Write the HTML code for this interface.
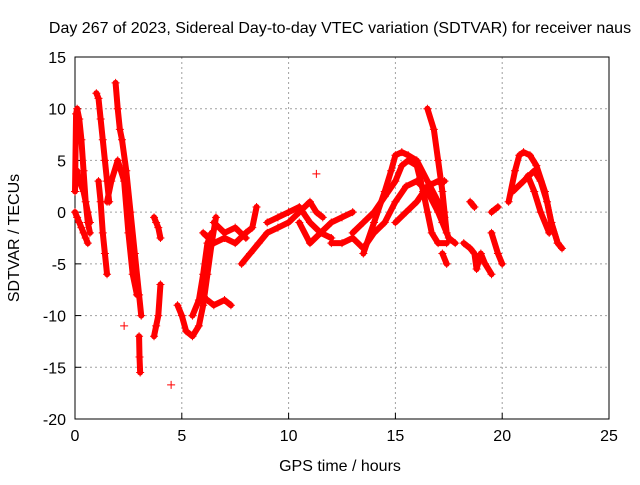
<!DOCTYPE html>
<html><head><meta charset="utf-8"><style>
body{margin:0;background:#fff;}
svg{font-family:"Liberation Sans",sans-serif;}
</style></head><body>
<svg id="chart" width="640" height="480">
<text x="340" y="33" font-size="16" text-anchor="middle">Day 267 of 2023, Sidereal Day-to-day VTEC variation (SDTVAR) for receiver naus</text>
<g id="grid"></g>
<g id="axes"></g>
<g id="marks"></g>
<text x="340" y="471" font-size="16" text-anchor="middle">GPS time / hours</text>
<text x="19" y="238" font-size="16" text-anchor="middle" transform="rotate(-90 19 238)">SDTVAR / TECUs</text>
</svg>
<script>
const xTicks=[0,5,10,15,20,25];
const yTicks=[15,10,5,0,-5,-10,-15,-20];
const trackX=[
[0,0.05,0.1,0.2,0.3,0.4,0.5,0.6,0.7],
[0,0.1,0.2,0.3,0.4,0.5,0.6],
[0.1,0.2,0.4,0.6,0.7],
[1.0,1.1,1.2,1.3,1.4,1.5,1.6],
[1.1,1.2,1.3,1.4,1.5],
[1.9,2.0,2.1,2.2,2.4,2.6,2.8,3.0,3.1],
[1.5,1.7,2.0,2.3,2.5,2.7,2.9],
[3.0,3.02,3.05],
[3.7,3.8,3.9,4.0],
[3.7,3.8,3.9,4.0],
[4.5],
[4.8,5.0,5.2,5.5,5.8,6.0,6.2,6.4,6.6],
[5.5,5.8,6.0,6.2,6.4],
[6.2,6.5,7.0,7.3],
[6.0,6.5,7.0,7.5,8.0,8.3,8.5],
[6.5,7.0,7.5,8.0],
[7.8,8.2,8.6,9.0,9.5,10.0,10.5,11.0,11.3,11.6],
[9.0,9.5,10.0,10.5,11.0,11.5,12.0],
[10.5,11.0,11.5,12.0,12.5,13.0],
[12.0,12.5,13.0,13.5,14.0,14.5,15.0,15.5,16.0,16.5,17.0,17.2,17.5,17.8],
[13.5,14.0,14.5,14.8,15.0,15.3,15.6,16.0,16.5,17.0,17.3],
[15.0,15.5,16.0,16.5,17.0,17.3],
[13.0,13.5,14.0,14.5,15.0,15.3,15.6,16.0,16.3,16.5,16.7,17.0,17.4],
[16.5,16.8,17.0,17.2,17.3,17.4],
[17.2,17.4],
[18.2,18.5,18.7,18.8,19.0,19.2,19.5],
[18.5,18.7],
[19.5,19.8,20.0],
[19.5,19.8],
[20.3,20.6,20.8,21.0,21.3,21.6,22.0,22.3,22.6,22.8],
[20.5,21.0,21.5,21.8,22.1,22.3,22.6],
[21.2,21.5,21.8,22.2],
[11.3],[2.3]
];
const trackY=[
[2,9.5,10,9,7,4,1,-1,-2],
[0,-0.5,-1,-1.5,-2,-2.5,-3],
[4,3,2,0,-1],
[11.5,11,9,7,5,3,1],
[3,1,-2,-4,-6],
[12.5,10,8,7,4,0,-4,-8,-10],
[1,3,5,3,-2,-6,-8],
[-12,-14,-15.5],
[-0.5,-1,-1.5,-2.5],
[-12,-11,-10,-7],
[-16.7],
[-9,-10,-11.5,-12,-11,-9,-6,-3,-0.5],
[-10,-8.5,-6,-3,-2],
[-8.5,-9,-8.5,-9],
[-2,-3,-2.5,-3,-2,-1.5,0.5],
[-1,-2,-1.5,-2.5],
[-5,-4,-3,-2,-1.5,-1,0,1,0,-0.5],
[-1,-0.5,0,0.5,-1,-2,-2.5],
[-1,-3,-2,-1,-0.5,0],
[-3,-3,-2.5,-3.5,-2,-1,1,2.5,3,2,0,-1,-2.5,-3],
[-4,-1,2,4,5.5,5.8,5.5,5,3,1,-0.5],
[-1,0,1,2.5,3,3],
[-2,-1,0,1.5,3,4.5,5,4.5,2,0,-2,-3,-3],
[10,8,5,2,0,-2],
[-4,-5],
[-3,-3.5,-4,-5.5,-4,-5,-6],
[1,0.5],
[-2,-4,-5],
[0,0.5],
[1,4,5.5,5.8,5.5,4.5,2,-1,-3,-3.5],
[2,3,4,3,1,-1,-3],
[3.5,2,0,-2],
[3.7],[-11]
];
const NS='http://www.w3.org/2000/svg';
const L=75,R=609,T=57,B=419;
const sx=v=>L+(v-0)/(25-0)*(R-L);
const sy=v=>B-(v+20)/(35)*(B-T);
function mk(tag,at,parent){const e=document.createElementNS(NS,tag);for(const k in at)e.setAttribute(k,at[k]);parent.appendChild(e);return e;}
const grid=document.getElementById('grid'),axes=document.getElementById('axes'),marks=document.getElementById('marks');
xTicks.forEach(t=>{
 if(t>0&&t<25){const g=mk('line',{x1:sx(t),x2:sx(t),y1:T,y2:B,stroke:'#a0a0a0','stroke-dasharray':'2,3'},grid);
 
 }
 const tk=mk('line',{x1:sx(t),x2:sx(t),y1:B,y2:B-6,stroke:'#000'},axes);
 
 
 const tx=mk('text',{x:sx(t),y:B+22,'font-size':16,'text-anchor':'middle'},axes);tx.textContent=t;
 
 
});
yTicks.forEach(t=>{
 if(t>-20&&t<15){const g=mk('line',{x1:L,x2:R,y1:sy(t),y2:sy(t),stroke:'#a0a0a0','stroke-dasharray':'2,3'},grid);
 
 }
 const tk=mk('line',{x1:L,x2:L+6,y1:sy(t),y2:sy(t),stroke:'#000'},axes);
 
 
 const tx=mk('text',{x:L-9,y:sy(t)+6,'font-size':16,'text-anchor':'end'},axes);tx.textContent=t;
 
 
});
const fr=mk('rect',{x:L,y:T,width:R-L,height:B-T,fill:'none',stroke:'#000'},axes);


trackX.forEach((xs,i)=>{
 const ys=trackY[i];
 if(xs.length>1){const p=mk('polyline',{points:xs.map((x,j)=>sx(x)+','+sy(ys[j])).join(' '),fill:'none',stroke:'#ff0000','stroke-width':6,'stroke-linejoin':'round','stroke-linecap':'round'},marks);
 
 }
 xs.forEach((x,j)=>{
  const cx=sx(x),cy=sy(ys[j]);
  const m=mk('path',{d:`M${cx-4},${cy}H${cx+4}M${cx},${cy-4}V${cy+4}`,stroke:'#ff0000','stroke-width':1},marks);
  
  
 });
});
</script>
</body></html>
